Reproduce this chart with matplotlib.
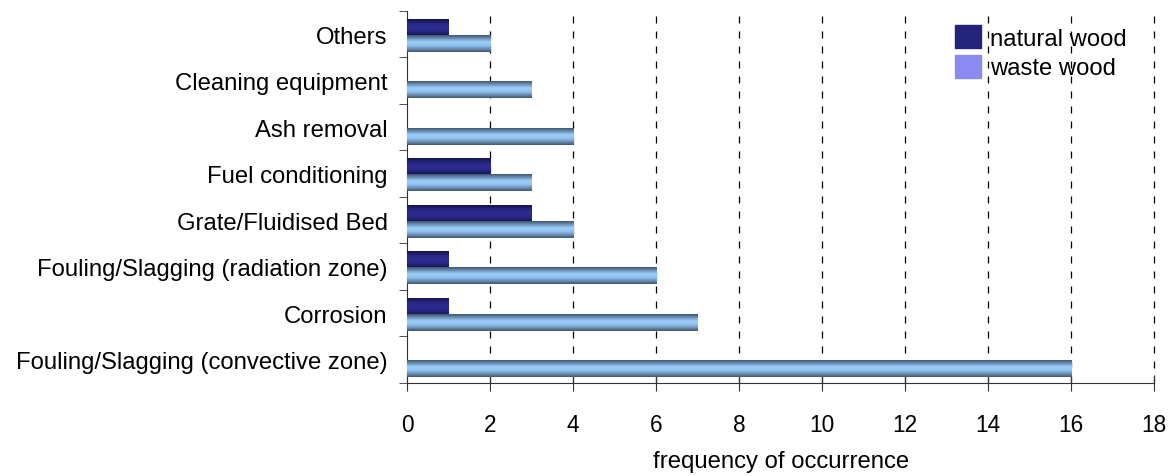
import matplotlib
matplotlib.use("Agg")
import matplotlib.pyplot as plt
import numpy as np
from matplotlib.colors import LinearSegmentedColormap
from matplotlib.patches import Patch

plt.rcParams["font.family"] = ["Liberation Sans", "DejaVu Sans"]

# top to bottom
categories = [
    "Others",
    "Cleaning equipment",
    "Ash removal",
    "Fuel conditioning",
    "Grate/Fluidised Bed",
    "Fouling/Slagging (radiation zone)",
    "Corrosion",
    "Fouling/Slagging (convective zone)",
]
natural_wood = [1, 0, 0, 2, 3, 1, 1, 0]
waste_wood = [2, 3, 4, 3, 4, 6, 7, 16]

# cylinder-style shading across bar thickness
dark_cmap = LinearSegmentedColormap.from_list(
    "dark", ["#14144a", "#262680", "#2e2e96", "#262680", "#14144a"])
light_cmap = LinearSegmentedColormap.from_list(
    "light", ["#3f5670", "#6f93b8", "#9ccdfb", "#92c4f2", "#6f93b8", "#3f5670"])
grad = np.linspace(0, 1, 64).reshape(-1, 1)

LABEL_FS = 17.2
TICK_FS = 16.3

fig = plt.figure(figsize=(11.73, 4.77), dpi=100)
ax = fig.add_axes([0.347, 0.195, 0.637, 0.780])

n = len(categories)
ypos = np.arange(n)[::-1]
h = 0.345


def gradient_bar(ax, y0, y1, value, cmap):
    if value <= 0:
        return
    ax.imshow(grad, cmap=cmap, aspect="auto", extent=[0, value, y0, y1],
              origin="upper", interpolation="bilinear", zorder=3)


for y, nv, wv in zip(ypos, natural_wood, waste_wood):
    c = y - 0.03
    gradient_bar(ax, c, c + h, nv, dark_cmap)
    gradient_bar(ax, c - h, c, wv, light_cmap)

ax.set_xlim(0, 18)
ax.set_ylim(-0.5, n - 0.5)
ax.set_xticks(np.arange(0, 19, 2))
ax.set_yticks(ypos)
ax.set_yticklabels(categories)
ax.set_yticks(np.arange(-0.5, n, 1), minor=True)
ax.tick_params(axis="y", which="major", length=0, pad=14, labelsize=LABEL_FS)
ax.tick_params(axis="y", which="minor", length=6, color="#333333")
ax.tick_params(axis="x", direction="inout", length=11, labelsize=TICK_FS,
               pad=16, color="#333333")

for x in range(2, 19, 2):
    ax.axvline(x, color="black", linestyle=(0, (5.6, 6.4)), linewidth=0.9,
               zorder=1, clip_on=False)

for s in ("top", "right"):
    ax.spines[s].set_visible(False)
for s in ("left", "bottom"):
    ax.spines[s].set_color("#333333")

ax.set_xlabel("frequency of occurrence", fontsize=LABEL_FS, labelpad=10)

handles = [Patch(facecolor="#23237a", edgecolor="#23237a", label="natural wood"),
           Patch(facecolor="#8a8af2", edgecolor="#8a8af2", label="waste wood")]
ax.legend(handles=handles, loc="upper left", bbox_to_anchor=(0.727, 0.975),
          frameon=False, fontsize=LABEL_FS, handlelength=1.1, handleheight=1.1,
          handletextpad=0.38, labelspacing=0.22, borderaxespad=0, borderpad=0.2)

fig.savefig("out.png", dpi=100)
